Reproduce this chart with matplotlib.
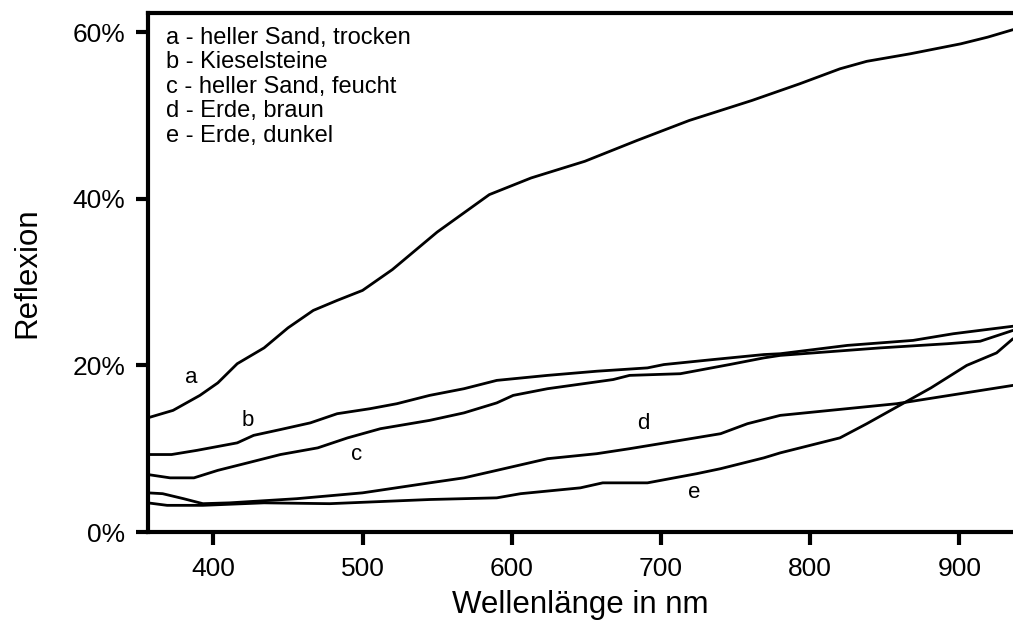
import matplotlib
matplotlib.use("Agg")
import matplotlib.pyplot as plt
from matplotlib.ticker import FuncFormatter

plt.rcParams['font.family'] = ['Liberation Sans', 'DejaVu Sans']

# Data (wavelength nm, reflectance %)
a_x = [356, 373, 391, 403, 416, 434, 450, 467, 483, 500, 520, 550, 585, 613, 649, 684, 719, 761, 793, 820, 838, 867, 901, 919, 936]
a_y = [13.7, 14.6, 16.4, 17.9, 20.2, 22.1, 24.5, 26.6, 27.8, 29.0, 31.5, 36.0, 40.5, 42.5, 44.5, 47.0, 49.4, 51.8, 53.8, 55.6, 56.5, 57.4, 58.6, 59.4, 60.3]

b_x = [356, 372, 389, 416, 427, 445, 465, 483, 505, 523, 545, 568, 590, 624, 657, 691, 702, 735, 769, 780, 825, 869, 896, 936]
b_y = [9.3, 9.3, 9.8, 10.7, 11.6, 12.3, 13.1, 14.2, 14.8, 15.4, 16.4, 17.2, 18.2, 18.8, 19.3, 19.7, 20.1, 20.7, 21.3, 21.4, 22.4, 23.0, 23.8, 24.7]

c_x = [356, 371, 387, 403, 423, 445, 470, 490, 512, 545, 568, 590, 601, 624, 668, 679, 713, 746, 769, 780, 847, 892, 914, 936]
c_y = [6.9, 6.5, 6.5, 7.4, 8.3, 9.3, 10.1, 11.3, 12.4, 13.4, 14.3, 15.5, 16.4, 17.2, 18.3, 18.8, 19.0, 20.1, 20.9, 21.2, 22.1, 22.6, 22.9, 24.2]

d_x = [356, 366, 380, 393, 411, 456, 500, 545, 568, 590, 624, 657, 679, 713, 740, 758, 780, 858, 936]
d_y = [4.7, 4.6, 4.0, 3.4, 3.5, 4.0, 4.7, 5.9, 6.5, 7.4, 8.8, 9.4, 10.0, 11.0, 11.8, 13.0, 14.0, 15.4, 17.6]

e_x = [356, 369, 393, 434, 478, 545, 590, 606, 646, 661, 691, 724, 740, 769, 780, 820, 838, 862, 881, 905, 925, 936]
e_y = [3.5, 3.2, 3.2, 3.5, 3.4, 3.9, 4.1, 4.6, 5.3, 5.9, 5.9, 7.0, 7.6, 8.9, 9.5, 11.3, 13.0, 15.4, 17.3, 20.0, 21.5, 23.2]

curve_keys = ['a', 'b', 'c', 'd', 'e']
curve_names = ['heller Sand, trocken', 'Kieselsteine', 'heller Sand, feucht', 'Erde, braun', 'Erde, dunkel']
label_x = [385, 423, 496, 688, 722]
label_y = [18.5, 13.4, 9.3, 13.0, 4.8]

x_ticks = [400, 500, 600, 700, 800, 900]
y_ticks = [0, 20, 40, 60]

series = [(a_x, a_y), (b_x, b_y), (c_x, c_y), (d_x, d_y), (e_x, e_y)]

fig = plt.figure(figsize=(10.13, 6.31), dpi=100)
ax = fig.add_axes([147.7 / 1013, 1 - 532 / 631, 1 - 147.7 / 1013, (532 - 13) / 631])

for (xs, ys) in series:
    ax.plot(xs, ys, color='black', lw=2.0, solid_capstyle='round', solid_joinstyle='round')

for k, lx, ly in zip(curve_keys, label_x, label_y):
    ax.text(lx, ly, k, fontsize=16, ha='center', va='center')

for i, (k, n) in enumerate(zip(curve_keys, curve_names)):
    fig.text(166 / 1013, 1 - (38 + i * 24.5) / 631, f"{k} - {n}", fontsize=17,
             ha='left', va='center')

ax.set_xlim(356, 936)
ax.set_ylim(0, 62.3)
ax.set_xticks(x_ticks)
ax.set_yticks(y_ticks)
ax.yaxis.set_major_formatter(FuncFormatter(lambda v, p: f"{int(v)}%"))

for s in ['left', 'bottom', 'top']:
    ax.spines[s].set_linewidth(3.0)
ax.spines['right'].set_visible(False)
ax.tick_params(axis='both', length=9, width=3.0, labelsize=19)
ax.tick_params(axis='x', pad=9)
ax.tick_params(axis='y', pad=7)

ax.set_xlabel('Wellenlänge in nm', fontsize=22.5)
ax.set_ylabel('Reflexion', fontsize=22.5)
ax.xaxis.set_label_coords(0.5, -0.112)
ax.yaxis.set_label_coords(-0.122, 0.5)

fig.savefig('out.png', dpi=100)
